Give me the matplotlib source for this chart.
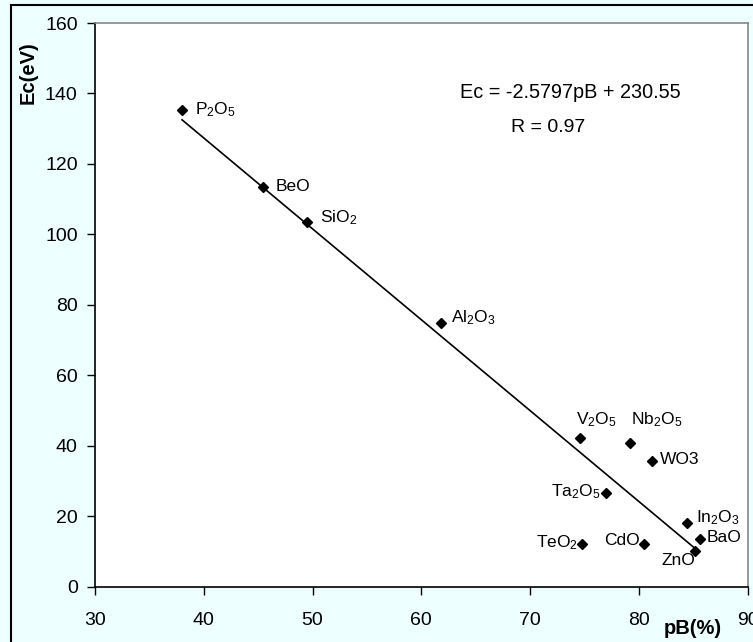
import matplotlib
matplotlib.use("Agg")
import matplotlib.pyplot as plt
from matplotlib.lines import Line2D
import numpy as np

plt.rcParams['font.family'] = ['Liberation Sans', 'DejaVu Sans']
plt.rcParams['mathtext.default'] = 'regular'

# Data
labels = ['P$_2$O$_5$', 'BeO', 'SiO$_2$', 'Al$_2$O$_3$', 'V$_2$O$_5$', 'Nb$_2$O$_5$', 'WO3',
          'Ta$_2$O$_5$', 'In$_2$O$_3$', 'BaO', 'ZnO', 'TeO$_2$', 'CdO']
pB = [38.0, 45.4, 49.5, 61.8, 74.6, 79.2, 81.2, 77.0, 84.4, 85.6, 85.2, 74.8, 80.5]
Ec = [135.3, 113.5, 103.6, 74.8, 42.1, 40.9, 35.8, 26.5, 18.2, 13.5, 10.1, 12.0, 12.0]
slope, intercept = -2.5797, 230.55
fit_x = [38.0, 85.2]
xticks = [30, 40, 50, 60, 70, 80, 90]
yticks = [0, 20, 40, 60, 80, 100, 120, 140, 160]

# label offsets in pixels (dx, dy, ha)
offsets = [(13, 0, 'left'), (13, 0, 'left'), (13, 4, 'left'), (10, 6, 'left'),
           (-4, 19, 'left'), (1, 23, 'left'), (8, 1, 'left'),
           (-6, 2, 'right'), (9, 5, 'left'), (7, 2, 'left'),
           (0, -9, 'right'), (-4, 2, 'right'), (-5, 4, 'right')]

W, H = 753, 642
fig = plt.figure(figsize=(W / 100, H / 100), dpi=100)
fig.patch.set_facecolor('#EEFFFF')

left, right, top, bottom = 95, 747.7, 23, 586.7
ax = fig.add_axes([left / W, (H - bottom) / H, (right - left) / W, (bottom - top) / H])
ax.set_facecolor('white')

ax.set_xlim(30, 90)
ax.set_ylim(0, 160)
ax.set_xticks(xticks)
ax.set_yticks(yticks)
ax.tick_params(direction='out', length=5.5, width=1, labelsize=14, colors='black')
ax.tick_params(axis='x', pad=13)
ax.tick_params(axis='y', pad=7)

for s in ['top', 'right']:
    ax.spines[s].set_color('#888888')
    ax.spines[s].set_linewidth(1.2)
for s in ['left', 'bottom']:
    ax.spines[s].set_color('black')
    ax.spines[s].set_linewidth(1.2)

fx = np.array(fit_x)
ax.plot(fx, slope * fx + intercept, color='black', lw=1.2, zorder=2)
ax.plot(pB, Ec, linestyle='none', marker='D', ms=5, color='black', zorder=3)

for lab, x, y, (dx, dy, ha) in zip(labels, pB, Ec, offsets):
    ax.annotate(lab, (x, y), xytext=(dx, dy), textcoords='offset pixels',
                ha=ha, va='center', fontsize=12.5)

fig.text(570 / W, 1 - 93 / H, 'Ec = -2.5797pB + 230.55', ha='center', va='center', fontsize=14.3)
fig.text(548 / W, 1 - 128 / H, 'R = 0.97', ha='center', va='center', fontsize=14)

fig.text(28 / W, 1 - 73 / H, 'Ec(eV)', rotation=90, ha='center', va='center',
         fontsize=14.5, fontweight='bold')
fig.text(693 / W, 1 - 628 / H, 'pB(%)', ha='center', va='center',
         fontsize=14.5, fontweight='bold')

# outer border (left and top)
fig.add_artist(Line2D([11 / W, 11 / W], [0, 1 - 5 / H], transform=fig.transFigure,
                      color='black', lw=1.5))
fig.add_artist(Line2D([11 / W, 1], [1 - 5 / H, 1 - 5 / H], transform=fig.transFigure,
                      color='black', lw=1.5))

fig.savefig('out.png', dpi=100, facecolor=fig.get_facecolor())
